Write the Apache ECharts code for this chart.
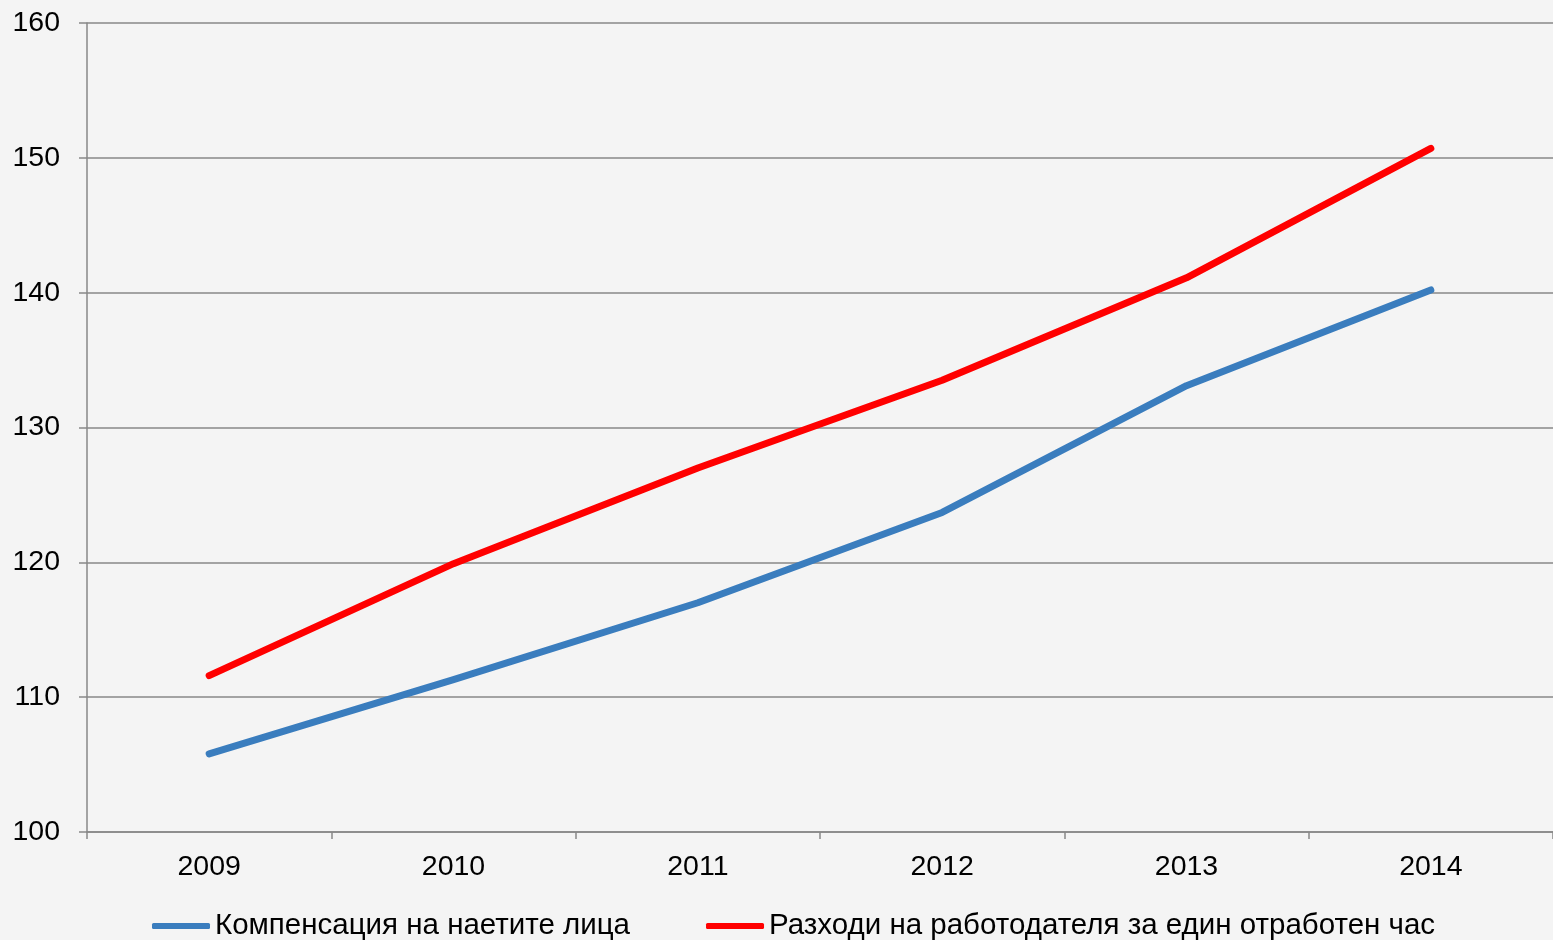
<!DOCTYPE html>
<html>
<head>
<meta charset="utf-8">
<script src="https://cdn.jsdelivr.net/npm/echarts@6/dist/echarts.min.js"></script>
<style>
  html, body { margin: 0; padding: 0; background: #f4f4f4; }
  #chart { width: 1553px; height: 940px; }
</style>
</head>
<body>
<div id="chart"></div>
<script>
var years = ['2009', '2010', '2011', '2012', '2013', '2014'];
var compensation = [105.8, 111.3, 117.0, 123.7, 133.1, 140.2];
var employerCost = [111.6, 119.9, 127.0, 133.5, 141.1, 150.7];
var seriesNames = ['Компенсация на наетите лица', 'Разходи на работодателя за един отработен час'];

var chart = echarts.init(document.getElementById('chart'));
var font = 'Liberation Sans, Arial, sans-serif';
chart.setOption({
  backgroundColor: '#f4f4f4',
  animation: false,
  grid: { left: 87, top: 23, width: 1470, height: 809 },
  legend: {
    top: 906,
    left: 147,
    itemWidth: 58,
    itemHeight: 6,
    itemGap: 76,
    icon: 'roundRect',
    textStyle: { fontFamily: font, fontSize: 29.5, color: '#000' },
    data: seriesNames
  },
  xAxis: {
    type: 'category',
    data: years,
    boundaryGap: true,
    axisLine: { lineStyle: { color: '#888', width: 1.5 } },
    axisTick: { show: true, length: 7, lineStyle: { color: '#888', width: 1.5 } },
    axisLabel: { fontFamily: font, fontSize: 28.5, color: '#000', margin: 21 }
  },
  yAxis: {
    type: 'value',
    min: 100,
    max: 160,
    interval: 10,
    axisLine: { show: true, lineStyle: { color: '#888', width: 1.5 } },
    axisTick: { show: true, length: 8, lineStyle: { color: '#888', width: 1.5 } },
    splitLine: { lineStyle: { color: '#888', width: 1.5 } },
    axisLabel: { fontFamily: font, fontSize: 28.5, color: '#000', margin: 27 }
  },
  series: [
    {
      name: seriesNames[0],
      type: 'line',
      data: compensation,
      showSymbol: false,
      color: '#3a7dbe',
      lineStyle: { width: 7, cap: 'round', join: 'round' }
    },
    {
      name: seriesNames[1],
      type: 'line',
      data: employerCost,
      showSymbol: false,
      color: '#ff0000',
      lineStyle: { width: 7, cap: 'round', join: 'round' }
    }
  ]
});
</script>
</body>
</html>
